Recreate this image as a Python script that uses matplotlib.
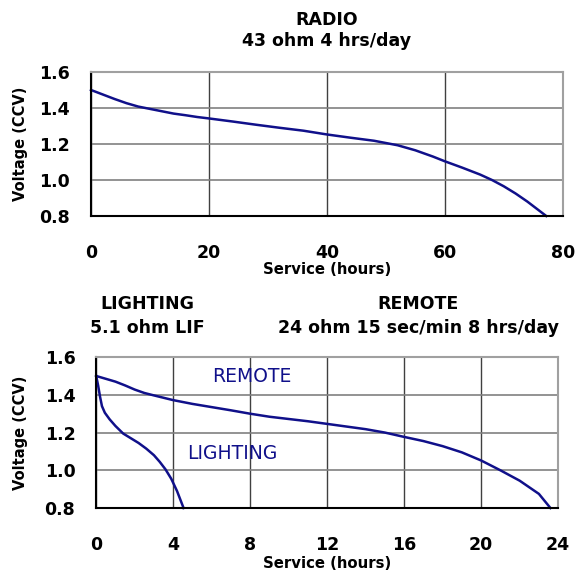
import matplotlib
matplotlib.use("Agg")
import matplotlib.pyplot as plt

plt.rcParams['font.family'] = ['DejaVu Sans']

# RADIO 43 ohm 4 hrs/day
radio_hours = [0, 2, 4, 6, 8, 10, 12, 14, 16, 18, 20, 24, 28, 32, 36, 40, 44, 48, 52,
               55, 58, 60, 63, 66, 68, 70, 72, 74, 76, 77.2]
radio_volts = [1.5, 1.475, 1.45, 1.427, 1.408, 1.395, 1.382, 1.369, 1.36, 1.35, 1.342,
               1.325, 1.307, 1.29, 1.274, 1.253, 1.235, 1.218, 1.193, 1.165, 1.13, 1.104,
               1.068, 1.03, 1.0, 0.965, 0.925, 0.88, 0.83, 0.8]

# REMOTE 24 ohm 15 sec/min 8 hrs/day
remote_hours = [0, 0.5, 1, 1.5, 2, 2.5, 3, 4, 5, 6, 7, 8, 9, 10, 11, 12, 13, 14, 15,
                16, 17, 18, 19, 20, 21, 22, 23, 23.6]
remote_volts = [1.5, 1.485, 1.47, 1.45, 1.428, 1.41, 1.397, 1.372, 1.352, 1.335, 1.318,
                1.30, 1.284, 1.272, 1.26, 1.246, 1.232, 1.218, 1.2, 1.177, 1.155, 1.128,
                1.095, 1.052, 1.0, 0.945, 0.875, 0.8]

# LIGHTING 5.1 ohm LIF
light_hours = [0, 0.1, 0.2, 0.3, 0.45, 0.7, 1.0, 1.4, 1.8, 2.2, 2.6, 3.0, 3.3, 3.6,
               3.9, 4.2, 4.54]
light_volts = [1.5, 1.45, 1.39, 1.34, 1.305, 1.27, 1.235, 1.195, 1.17, 1.145, 1.115,
               1.08, 1.045, 1.005, 0.955, 0.89, 0.8]

y_ticks = [0.8, 1.0, 1.2, 1.4, 1.6]
radio_xticks = [0, 20, 40, 60, 80]
lower_xticks = [0, 4, 8, 12, 16, 20, 24]

navy = '#10108a'


def style_axes(ax, xticks, xmax):
    ax.set_xlim(0, xmax)
    ax.set_ylim(0.8, 1.6)
    ax.set_xticks(xticks)
    ax.set_yticks(y_ticks)
    ax.set_yticklabels([f"{v:.1f}" for v in y_ticks])
    ax.tick_params(length=0, labelsize=12.5)
    ax.tick_params(axis='x', pad=20)
    ax.tick_params(axis='y', pad=15)
    for lab in ax.get_xticklabels() + ax.get_yticklabels():
        lab.set_fontweight('bold')
    ax.xaxis.grid(True, color='#404040', lw=1)
    ax.yaxis.grid(True, color='#808080', lw=1.2)
    ax.set_axisbelow(True)
    for s in ['top', 'right']:
        ax.spines[s].set_color('#a0a0a0')
        ax.spines[s].set_linewidth(1.5)
    for s in ['left', 'bottom']:
        ax.spines[s].set_color('black')
        ax.spines[s].set_linewidth(1.5)
    ax.set_xlabel("Service (hours)", fontsize=10.7, fontweight='bold')
    ax.set_ylabel("Voltage (CCV)", fontsize=10.5, fontweight='bold')


fig = plt.figure(figsize=(5.76, 5.76), dpi=100)

ax1 = fig.add_axes([0.158, 0.625, 0.819, 0.25])
ax1.plot(radio_hours, radio_volts, color=navy, lw=1.8, clip_on=False)
style_axes(ax1, radio_xticks, 80)
ax1.xaxis.set_label_coords(0.5, -0.32)
ax1.yaxis.set_label_coords(-0.133, 0.5)

ax2 = fig.add_axes([0.167, 0.118, 0.802, 0.262])
ax2.plot(remote_hours, remote_volts, color=navy, lw=1.8, clip_on=False)
ax2.plot(light_hours, light_volts, color=navy, lw=1.8, clip_on=False)
style_axes(ax2, lower_xticks, 24)
ax2.xaxis.set_label_coords(0.5, -0.315)
ax2.yaxis.set_label_coords(-0.147, 0.5)
ax2.text(6.0, 1.495, "REMOTE", color=navy, fontsize=13.5, va='center', ha='left')
ax2.text(4.71, 1.088, "LIGHTING", color=navy, fontsize=13.5, va='center', ha='left')

title_kw = dict(ha='center', va='baseline', fontsize=12.5, fontweight='bold')
fig.text(327 / 576, 1 - 25 / 576, "RADIO", **title_kw)
fig.text(327 / 576, 1 - 46 / 576, "43 ohm 4 hrs/day", **title_kw)
fig.text(147 / 576, 1 - 309 / 576, "LIGHTING", **title_kw)
fig.text(147 / 576, 1 - 333 / 576, "5.1 ohm LIF", **title_kw)
fig.text(418 / 576, 1 - 309 / 576, "REMOTE", **title_kw)
fig.text(418 / 576, 1 - 333 / 576, "24 ohm 15 sec/min 8 hrs/day", **title_kw)

fig.savefig("out.png", dpi=100)
